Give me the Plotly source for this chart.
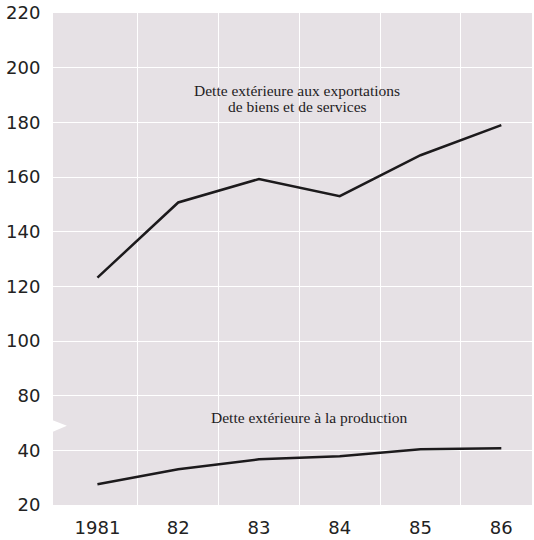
import plotly.graph_objects as go

# Années (axe horizontal)
years = [1981, 1982, 1983, 1984, 1985, 1986]
year_labels = ["1981", "82", "83", "84", "85", "86"]

# Dette extérieure en % des exportations de biens et services
debt_exports = [123.2, 150.7, 159.3, 153.0, 168.0, 179.0]
# Dette extérieure en % de la production
debt_output = [27.6, 33.1, 36.7, 37.8, 40.4, 40.8]

upper_ticks = [80, 100, 120, 140, 160, 180, 200, 220]
lower_ticks = [20, 40]

BG = "#e6e1e5"
INK = "#1c1a1c"
TICK_FONT = dict(family="DejaVu Sans", size=18, color="#222222")

TOP, BOTTOM, LEFT, RIGHT = 10, 27, 53, 2
W, H = 534, 540
plot_h = H - TOP - BOTTOM
plot_w = W - LEFT - RIGHT

fig = go.Figure()

fig.add_trace(go.Scatter(
    x=years, y=debt_exports, mode="lines",
    line=dict(color=INK, width=2.5),
    xaxis="x", yaxis="y2", showlegend=False, hoverinfo="skip",
))
fig.add_trace(go.Scatter(
    x=years, y=debt_output, mode="lines",
    line=dict(color=INK, width=2.5),
    xaxis="x", yaxis="y", showlegend=False, hoverinfo="skip",
))

# axe vertical interrompu : partie basse 20-50, partie haute 70-220
split = 1.5 / 9

fig.update_layout(
    width=W, height=H,
    margin=dict(l=LEFT, r=RIGHT, t=TOP, b=BOTTOM),
    paper_bgcolor="white",
    plot_bgcolor="rgba(0,0,0,0)",
    xaxis=dict(
        range=[1980.45, 1986.38],
        tickvals=years, ticktext=year_labels,
        showgrid=False, zeroline=False, showline=False,
        ticks="outside", ticklen=6, tickcolor="rgba(0,0,0,0)",
        tickfont=TICK_FONT,
        minor=dict(tickvals=[y + 0.5 for y in years[:-1]],
                   showgrid=True, gridcolor="white", gridwidth=1, ticks=""),
        anchor="y",
    ),
    yaxis=dict(
        domain=[0, split], range=[20, 50],
        tickvals=lower_ticks,
        showgrid=True, gridcolor="white", gridwidth=1,
        zeroline=False, showline=False,
        ticks="outside", ticklen=8, tickcolor="rgba(0,0,0,0)",
        tickfont=TICK_FONT, ticklabeloverflow="allow",
    ),
    yaxis2=dict(
        domain=[split, 1], range=[70, 220.05],
        tickvals=upper_ticks,
        showgrid=True, gridcolor="white", gridwidth=1,
        zeroline=False, showline=False,
        ticks="outside", ticklen=8, tickcolor="rgba(0,0,0,0)",
        tickfont=TICK_FONT, ticklabeloverflow="allow",
        anchor="x",
    ),
)

# fond continu sous les deux parties de l'axe
fig.add_shape(
    type="rect", xref="paper", yref="paper", layer="below",
    x0=0, x1=1, y0=0, y1=1, fillcolor=BG, line=dict(width=0),
)

# encoche marquant l'interruption de l'échelle
fig.add_shape(
    type="path", xref="paper", yref="paper", layer="above",
    path="M -0.01 0.176 L 0.029 0.161 L -0.01 0.145 Z",
    fillcolor="white", line=dict(width=0),
)

label_font = dict(family="Liberation Serif", size=15.5, color="#1e1c1e")


def label(text, px_x, px_y):
    fig.add_annotation(
        xref="paper", yref="paper",
        x=(px_x - LEFT) / plot_w, y=(H - BOTTOM - px_y) / plot_h,
        xanchor="center", yanchor="middle",
        text=text, showarrow=False, font=label_font,
    )


label("Dette extérieure aux exportations", 297, 89)
label("de biens et de services", 297, 106)
label("Dette extérieure à la production", 309, 424)

fig.write_html("out.html")
